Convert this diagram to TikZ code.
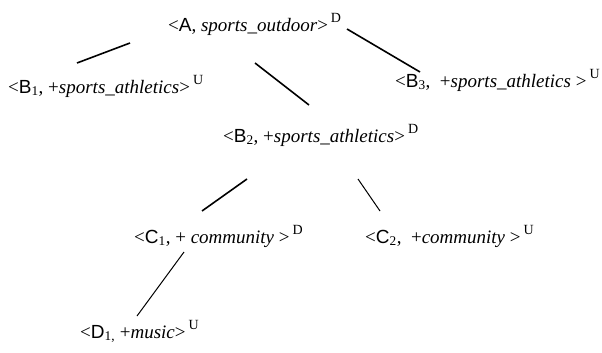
\documentclass[tikz,border=0pt]{standalone}
\usepackage{fontspec}
\setmainfont{Liberation Serif}
\newfontfamily\arialfont{Liberation Sans}
\usepackage{tikz}
\usetikzlibrary{positioning}
\newcommand{\ent}[2]{{\arialfont #1}\textsubscript{#2}}
\newcommand{\dirtag}[1]{\hspace{3pt}\raisebox{9pt}{\fontsize{14}{15}\selectfont #1}}
\tikzset{
    item/.style={anchor=base west, inner sep=0pt, font=\fontsize{19}{22}\selectfont},
    link/.style={line width=1.6pt},
    thinlink/.style={line width=1pt}
}

\begin{document}
\begin{tikzpicture}[x=1pt, y=-1pt]
    \useasboundingbox (0,0) rectangle (602,353);
    \node[item] (A) at (168,32) {<{\arialfont A}, \textit{sports\_outdoor}>\dirtag{D}};
    \node[item] (B1) at (8,93) {<\ent{B}{1}, +\textit{sports\_athletics}>\dirtag{U}};
    \node[item] (B2) at (223,142) {<\ent{B}{2}, +\textit{sports\_athletics}>\dirtag{D}};
    \node[item] (B3) at (395,87) {<\ent{B}{3},\ \ +\textit{sports\_athletics} >\dirtag{U}};
    \node[item] (C1) at (134,243) {<\ent{C}{1}, + \textit{community} >\dirtag{D}};
    \node[item] (C2) at (365,243) {<\ent{C}{2},\ \ +\textit{community} >\dirtag{U}};
    \node[item] (D1) at (80,338) {<\ent{D}{1,} +\textit{music}>\dirtag{U}};
    % tree edges
    \draw[link] ([shift={(-38,11)}]A.base west) -- ([shift={(69,-30)}]B1.base west);
    \draw[link] ([shift={(87,31)}]A.base west) -- ([shift={(86,-37)}]B2.base west);
    \draw[link] ([shift={(179,-3)}]A.base west) -- ([shift={(25,-15)}]B3.base west);
    \draw[link] ([shift={(24,37)}]B2.base west) -- ([shift={(68,-32)}]C1.base west);
    \draw[thinlink] ([shift={(135,37)}]B2.base west) -- ([shift={(15,-32)}]C2.base west);
    \draw[thinlink] ([shift={(50,9)}]C1.base west) -- ([shift={(57,-22)}]D1.base west);
\end{tikzpicture}
\end{document}
